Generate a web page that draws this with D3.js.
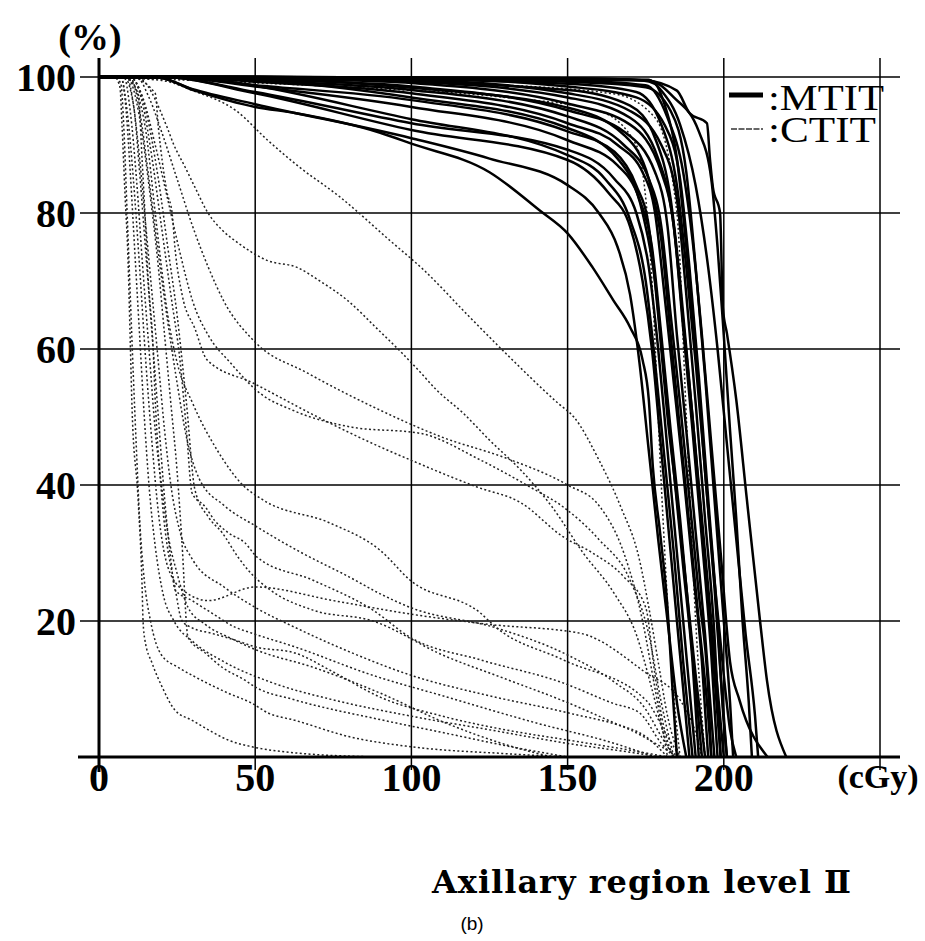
<!DOCTYPE html>
<html><head><meta charset="utf-8">
<script src="https://cdn.jsdelivr.net/npm/d3@7/dist/d3.min.js"></script>
<style>body{margin:0;background:#fff;} svg{display:block;background:#fff}</style>
</head><body>
<svg id="c" width="925" height="941"></svg>
<script>
// ---------- data ----------
const xTickValues = [0, 50, 100, 150, 200];
const xGridValues = [50, 100, 150, 200, 250];
const yTickValues = [20, 40, 60, 80, 100];
const yGridValues = [20, 40, 60, 80, 100];
const xUnit = "(cGy)";
const yUnit = "(%)";
const chartTitle = "Axillary region level Ⅱ";
const panelLabel = "(b)";
const legendLabels = [":MTIT", ":CTIT"];

// MTIT dose-volume curves: [dose cGy, volume %]
const mtitCurves = [
  [[0,100],[18,100],[30.7,98],[50,95.6],[62.7,94.7],[90,91.8],[100,90.2],[125,86],[141,80.4],[150,77],[158,72],[164.6,67.2],[170,63.2],[174,58.4],[176,52.5],[177.3,42.6],[179.6,33],[181.8,23],[183.8,8.4],[185,0]],
  [[0,100],[18,100],[30,98.2],[50,96],[100,91],[125,88],[150,84.1],[160,80],[166,75],[170,68],[173,58],[176,45],[179,32],[182,20],[185,8],[188,0]],
  [[0,100],[20,100],[50,97.6],[100,92.2],[150,87.8],[163,83],[170,78],[174,70],[177,60],[180,45],[183,30],[186,15],[189,0]],
  [[0,100],[20,100],[50,97.8],[100,93.2],[150,89.3],[165,85],[172,80],[176,72],[179,60],[182,45],[185,30],[188,15],[191,0]],
  [[0,100],[22,100],[50,98.6],[100,95.6],[150,90.7],[166,87],[173,82],[177,75],[180,62],[183,48],[186,35],[189,20],[192,5],[193,0]],
  [[0,100],[22,100],[50,98.8],[100,96.6],[150,92],[165,89],[172,84],[176,78],[179,65],[182,50],[185,38],[188,25],[191,12],[194,0]],
  [[0,100],[25,100],[50,99.3],[100,97.6],[150,93.2],[166,90],[174,86],[178,80],[181,68],[184,55],[187,42],[190,28],[193,14],[195,0]],
  [[0,100],[25,100],[60,99.3],[100,98.1],[150,94.2],[168,90],[176,85],[180,78],[183,65],[186,52],[189,38],[192,24],[195,10],[196,0]],
  [[0,100],[30,100],[60,99.5],[100,98.6],[150,95.1],[168,92],[178,86],[182,78],[185,62],[188,48],[191,33],[194,18],[197,0]],
  [[0,100],[30,100],[70,99.6],[100,99.1],[150,96.1],[170,93],[180,86],[184,78],[187,63],[190,48],[193,32],[196,15],[198,0]],
  [[0,100],[35,100],[100,99.6],[150,97.6],[170,95],[180,90],[185,82],[188,68],[191,52],[194,35],[197,18],[199,0]],
  [[0,100],[40,100],[100,99.8],[150,98.6],[172,97],[181,93],[186,85],[189,72],[192,56],[195,38],[198,20],[200,5],[201,0]],
  [[0,100],[50,100],[150,99.3],[175,98.5],[183,95],[188,86],[191,72],[194,56],[197,38],[200,20],[202,8],[203,0]],
  [[0,100],[60,100],[150,99.8],[174,99.5],[178,99],[181,96],[185,88],[188,75],[191,60],[194,42],[197,25],[199,12],[201,0]],
  [[0,100],[60,100],[150,99.8],[175,99.5],[185,98],[189,94.7],[194.6,93.2],[195.6,87.8],[196.5,83.8],[198.8,80],[199.7,66],[201,62.3],[204,52.5],[207.4,37.8],[211.6,20],[213.8,11.3],[220,0]],
  [[0,100],[50,100],[150,99.6],[176,99.5],[184,97],[192,92],[196,85],[198,75],[200,62],[202,48],[204,35],[206,20],[208,8],[209,0]],
  [[0,100],[50,100],[150,99.5],[175,98.8],[182,94],[187,86],[190,76],[193,62],[196,46],[199,30],[202,14],[205,8.4],[214,0]],
  [[0,100],[45,100],[150,99],[172,97.8],[180,93],[185,84],[188,72],[191,58],[194,42],[197,26],[200,12],[202,4],[204,0]],
  [[0,100],[40,100],[150,98.1],[170,95.8],[178,91],[183,82],[186,70],[189,55],[192,40],[195,25],[198,10],[200,0]],
  [[0,100],[35,100],[100,99.3],[150,97],[170,94],[179,88],[184,78],[187,64],[190,50],[193,34],[196,18],[198,6],[199,0]],
  [[0,100],[30,100],[100,98.4],[150,95.5],[168,91.5],[176,85],[180,76],[183,62],[186,48],[189,34],[192,20],[195,6],[196,0]],
  [[0,100],[25,100],[100,97],[150,92.5],[166,88],[174,80],[178,70],[181,56],[184,42],[187,28],[190,14],[192,0]],
  [[0,100],[20,100],[100,93.8],[150,88.5],[162,85],[170,79],[175,70],[178,58],[181,44],[184,30],[187,14],[190,0]],
  [[0,100],[50,100],[150,99.7],[176,99.6],[180,98],[186,93],[191,84],[195,72],[198,60],[201,46],[204,32],[207,18],[210,6],[211,0]]
];

// CTIT dose-volume curves: [dose cGy, volume %]
const ctitCurves = [
  [[0,100],[5,100],[6.7,98.5],[7.4,92.6],[8.3,83],[9.3,73],[9.9,63],[10.6,51],[12.5,38],[13.8,25],[14.1,20],[14.7,17.2],[17,13.8],[20.2,10.3],[24.3,6.9],[29.8,5.4],[35,4],[41.3,2.5],[49,1.5],[63,0.6],[90,0]],
  [[0,100],[5,100],[7,99],[8,92],[9,80],[10,68],[11,56],[12,45],[13,35],[14.5,26],[16.5,20],[20,15],[25.3,13.2],[30.7,11.8],[41.3,9.4],[49,7.9],[54,6.5],[62.7,5.4],[80,3],[100,1.5],[130,0.5],[150,0]],
  [[0,100],[8,100],[12.5,97.6],[13.8,87.8],[14.7,80],[15.7,70.6],[17.3,60.3],[17.9,53.5],[20.2,37.8],[24.3,25],[26.6,20],[29.8,19],[36,18.2],[43.5,17.2],[50,16.2],[62.7,15.3],[75,12.5],[90,8.8],[110,6],[130,4],[150,2.5],[170,1],[182,0]],
  [[0,100],[8,100],[11,96],[13,86],[15,74],[17,62],[19,50],[21,38],[23,29],[24.3,24.6],[29.8,23],[36,21.2],[43.5,19.1],[49,18.2],[62.7,16.2],[87.7,12],[110,9],[140,5],[165,2],[178,0]],
  [[0,100],[9,100],[13,94],[16,84],[19,72],[21,62],[23,52],[25,42],[26.5,32],[28.5,17.6],[34,15.3],[39.4,13.2],[46.7,11.3],[50,10.3],[62.7,8.4],[90,5.5],[111,3.5],[132,1.5],[150,0]],
  [[0,100],[10,100],[14,96],[17,88],[20,78],[23,68],[26,58],[28,48],[29.8,38.8],[34,36.8],[37,34.8],[41.3,33],[46.7,31.5],[50.6,29.4],[68.5,26],[87.7,21.6],[99.6,17.6],[122,14.3],[148.5,10.9],[164.5,7.9],[173,6.5],[180,2],[184,0]],
  [[0,100],[10,100],[15,95],[19,85],[22,75],[25,65],[28,52],[30.7,39.3],[35,35.3],[39.4,33],[44.5,29.4],[47.7,27.5],[54.7,24.6],[68.5,21.6],[87.7,20],[110,15],[130,11.5],[150,8],[165,5],[175,3],[182,0]],
  [[0,100],[10,100],[18,97.6],[19,92.6],[20.2,87.8],[21.8,83],[23.4,80],[24.3,75],[26.6,68],[30.7,63],[34.6,58.4],[49.3,55],[70,50],[90,45.6],[99.6,43.7],[121,39.7],[135,37.4],[148.5,32.4],[158,30],[168,26.5],[175,22],[178,12],[181,4],[184,0]],
  [[0,100],[12,100],[21.8,92.6],[23.7,90.3],[27.5,86.8],[30.7,83.8],[34.9,80],[39.4,77.5],[44.5,75.6],[54,73],[63.4,72],[70.7,70],[79.4,67.2],[89,63],[97,59.4],[103,56.5],[108,54],[116.5,50.6],[125,46.6],[135,42.2],[145,36.8],[155,30],[165,24],[172,18],[177,10],[181,3],[184,0]],
  [[0,100],[20,99.5],[30,98],[44,95],[54,90.7],[64,86.8],[77,82.4],[93,76],[104,71.6],[118,65],[131,59],[147,52],[152,50],[160,43.7],[167,36.8],[173,29],[176,22],[179,14],[182,6],[186,0]],
  [[0,100],[9,100],[12,98],[15,92],[18,80],[20,72],[22,65],[25,58],[30,52],[38,45],[46,40],[52.5,37.8],[74,34.4],[90,30.4],[99.6,26],[122,21.2],[127,19.1],[148.5,14.3],[175,8.4],[182,3],[186,0]],
  [[0,100],[10,100],[14,97],[18,90],[22,82],[26,74],[30,67],[35,62],[42,58],[51.5,53.5],[62,51],[81,48.5],[102.8,47.6],[122,43.7],[138,39.7],[148.5,36.8],[160,32],[170,26],[176,18],[180,8],[184,0]],
  [[0,100],[12,100],[16,97],[20,92],[25,85],[30,78],[35,72],[40,67],[50,61],[66.6,56.5],[90,51],[110,47],[130,44],[150,40],[160,37],[168,30],[174,20],[178,10],[182,0]],
  [[0,100],[8,100],[10,95],[12,85],[14,72],[16,60],[18,48],[20,40],[22,33],[25,27],[28.5,22],[34,19.5],[42,17.5],[50.6,15.7],[68.5,13.2],[90,9.4],[111,5],[132.5,1.5],[145,0]],
  [[0,100],[9,100],[11,96],[13,88],[15,78],[17,68],[19,58],[21,48],[23,40],[26,33],[30,29],[40,25],[50,22],[63,19],[80,15.5],[100,12],[125,9],[150,6.5],[170,4],[180,1.5],[186,0]],
  [[0,100],[10,100],[13,95],[16,85],[19,74],[22,64],[25,55],[28,47],[32,41],[40,37],[50,34],[65,30],[80,26.5],[90,24],[99.6,22],[127,19],[150,15],[165,11],[175,7],[180,3],[184,0]],
  [[0,100],[7,100],[9,95],[11,85],[13,72],[15,58],[17,46],[19,36],[22,28],[27,24.5],[35,23],[50,25],[75,23],[100,21],[125,19.5],[154,18.2],[175,12.4],[186,8.4],[191,3.5],[193,0]],
  [[0,100],[30,99.5],[80,98.5],[130,97],[160,95],[172,90],[177,70],[180,40],[183,15],[186,0]],
  [[0,100],[50,99.8],[120,99],[165,97.5],[178,94],[185,80],[188,50],[191,20],[194,0]],
  [[0,100],[7,100],[8.5,96],[10,86],[11.5,74],[13,62],[14.5,50],[16,40],[18,31],[20.5,24],[24,20],[30,17],[40,14],[55,11],[75,8.4],[100,6],[125,4],[150,2],[170,0.7],[180,0]]
];

// ---------- drawing ----------
const svg = d3.select("#c");
const x = d3.scaleLinear().domain([0, 250]).range([99, 880]);
const y = d3.scaleLinear().domain([0, 100]).range([757, 77]);
const serif = "'Liberation Serif','DejaVu Serif',serif";
const wideSerif = "'DejaVu Serif','Liberation Serif',serif";

svg.append("rect").attr("width", 925).attr("height", 941).attr("fill", "#fff");

// grid
const g = svg.append("g");
g.selectAll(".hg").data(yGridValues).join("line")
  .attr("x1", 80).attr("x2", 900)
  .attr("y1", d => y(d)).attr("y2", d => y(d))
  .attr("stroke", "#000").attr("stroke-width", 1.7);
g.selectAll(".vg").data(xGridValues).join("line")
  .attr("x1", d => x(d)).attr("x2", d => x(d))
  .attr("y1", 58).attr("y2", 770)
  .attr("stroke", "#000").attr("stroke-width", 1.5);

// curves
svg.append("clipPath").attr("id", "pc").append("rect")
  .attr("x", x(0)).attr("y", y(100) - 3).attr("width", x(250) - x(0)).attr("height", y(0) - y(100) + 3);
const line = d3.line().x(d => x(d[0])).y(d => y(d[1])).curve(d3.curveMonotoneX);
const plot = svg.append("g").attr("clip-path", "url(#pc)");
plot.selectAll(".ct").data(ctitCurves).join("path")
  .attr("d", line).attr("fill", "none")
  .attr("stroke", "#222").attr("stroke-width", 1.5)
  .attr("stroke-dasharray", "2,2.4");
plot.selectAll(".mt").data(mtitCurves).join("path")
  .attr("d", line).attr("fill", "none")
  .attr("stroke", "#000").attr("stroke-width", 2.5);

// axes lines
svg.append("line").attr("x1", x(0)).attr("x2", x(0)).attr("y1", 58).attr("y2", 772)
  .attr("stroke", "#000").attr("stroke-width", 3);
svg.append("line").attr("x1", 78).attr("x2", 900).attr("y1", y(0)).attr("y2", y(0))
  .attr("stroke", "#000").attr("stroke-width", 3.2);

// tick labels
svg.selectAll(".yl").data(yTickValues).join("text")
  .attr("x", 76).attr("y", d => y(d) + 14)
  .attr("text-anchor", "end")
  .attr("font-family", serif).attr("font-weight", "bold").attr("font-size", 40)
  .text(d => d);
svg.selectAll(".xl").data(xTickValues).join("text")
  .attr("x", d => x(d)).attr("y", 791)
  .attr("text-anchor", "middle")
  .attr("font-family", serif).attr("font-weight", "bold").attr("font-size", 40)
  .text(d => d);
svg.append("text").attr("x", 878).attr("y", 788).attr("text-anchor", "middle")
  .attr("font-family", serif).attr("font-weight", "bold").attr("font-size", 34)
  .text(xUnit);
svg.append("text").attr("x", 90).attr("y", 50).attr("text-anchor", "middle")
  .attr("font-family", serif).attr("font-weight", "bold").attr("font-size", 38)
  .text(yUnit);

// legend
svg.append("line").attr("x1", 729).attr("x2", 763).attr("y1", 95).attr("y2", 95)
  .attr("stroke", "#000").attr("stroke-width", 5);
svg.append("line").attr("x1", 731).attr("x2", 763).attr("y1", 129).attr("y2", 129)
  .attr("stroke", "#666").attr("stroke-width", 2).attr("stroke-dasharray", "6,1.5");
svg.selectAll(".lg").data(legendLabels).join("text")
  .attr("x", 768).attr("y", (d, i) => 110 + i * 32)
  .attr("font-family", serif).attr("font-size", 36)
  .attr("textLength", (d, i) => i === 0 ? 116 : 108).attr("lengthAdjust", "spacingAndGlyphs")
  .text(d => d);

// titles
svg.append("text").attr("x", 432).attr("y", 893)
  .attr("font-family", wideSerif).attr("font-weight", "bold").attr("font-size", 32)
  .attr("letter-spacing", 1)
  .text(chartTitle);
svg.append("text").attr("x", 472).attr("y", 930).attr("text-anchor", "middle")
  .attr("font-family", "'Liberation Sans',Arial,sans-serif").attr("font-size", 19)
  .text(panelLabel);
</script>
</body></html>
